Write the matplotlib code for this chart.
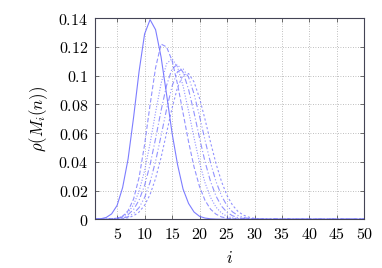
import numpy as np
import matplotlib
matplotlib.use("Agg")
import matplotlib.pyplot as plt

plt.rcParams['mathtext.fontset'] = 'cm'
plt.rcParams['font.family'] = 'serif'
plt.rcParams['font.serif'] = ['DejaVu Serif']

# i = 1 .. 50 (zero beyond the listed tail)
i_vals = np.arange(1, 51)

def pad(vals):
    out = list(vals) + [0.0] * (50 - len(vals))
    return np.array(out)

rho_1 = pad([0, 0.0003, 0.0012, 0.0037, 0.0096, 0.022, 0.042, 0.071, 0.103, 0.129,
             0.139, 0.132, 0.113, 0.087, 0.060, 0.038, 0.021, 0.011, 0.005, 0.002,
             0.0008, 0.0003, 0.0001])
rho_2 = pad([0, 0, 0, 0.0002, 0.0007, 0.0021, 0.0059, 0.0141, 0.0291, 0.0519,
             0.0797, 0.1055, 0.122, 0.120, 0.1105, 0.094, 0.074, 0.054, 0.0364, 0.0227,
             0.0131, 0.0070, 0.0035, 0.0016, 0.0007, 0.0003, 0.0001])
rho_3 = pad([0, 0, 0, 0.0003, 0.0008, 0.0020, 0.0047, 0.0101, 0.0195, 0.0338,
             0.0528, 0.0745, 0.0946, 0.1083, 0.1118, 0.1059, 0.0929, 0.0754, 0.0567, 0.0395,
             0.0254, 0.0152, 0.0084, 0.0043, 0.0020, 0.0009, 0.0004, 0.0001])
rho_4 = pad([0, 0, 0, 0.0002, 0.0005, 0.0014, 0.0032, 0.0068, 0.0133, 0.0235,
             0.0380, 0.0561, 0.0757, 0.0932, 0.1049, 0.1078, 0.1024, 0.0904, 0.0742, 0.0565,
             0.0400, 0.0263, 0.0161, 0.0091, 0.0048, 0.0024, 0.0011, 0.0005, 0.0002])
rho_5 = pad([0, 0, 0, 0, 0.0003, 0.0007, 0.0018, 0.0040, 0.0081, 0.0151,
             0.0258, 0.0404, 0.0581, 0.0766, 0.0927, 0.1028, 0.1047, 0.0990, 0.0873, 0.0717,
             0.0550, 0.0393, 0.0262, 0.0163, 0.0094, 0.0051, 0.0026, 0.0012, 0.0005, 0.0002])
rho_6 = pad([0, 0, 0, 0, 0.0001, 0.0004, 0.0010, 0.0024, 0.0050, 0.0097,
             0.0172, 0.0284, 0.0430, 0.0601, 0.0774, 0.0919, 0.1005, 0.1015, 0.0956, 0.0843,
             0.0695, 0.0536, 0.0387, 0.0262, 0.0165, 0.0098, 0.0054, 0.0028, 0.0014, 0.0006,
             0.0002])

series = [rho_1, rho_2, rho_3, rho_4, rho_5, rho_6]
styles = ['-', (0, (4, 2)), (0, (1, 1.5)), (0, (5, 2, 1, 2)), (0, (5, 2, 1, 2, 1, 2)), (0, (2, 2))]

x_ticks = [5, 10, 15, 20, 25, 30, 35, 40, 45, 50]
y_ticks = [0, 0.02, 0.04, 0.06, 0.08, 0.1, 0.12, 0.14]
y_labels = ['0', '0.02', '0.04', '0.06', '0.08', '0.1', '0.12', '0.14']

fig = plt.figure(figsize=(3.82, 2.68), dpi=100)
ax = fig.add_axes([0.249, 0.182, 0.705, 0.750])

for s, ls in zip(series, styles):
    ax.plot(i_vals, s, color='#6f6fff', lw=0.8, ls=ls, alpha=0.9 if ls == '-' else 0.75)

ax.set_xlim(1, 50)
ax.set_ylim(0, 0.14)
ax.set_xticks(x_ticks)
ax.set_xticklabels(['$%d$' % t for t in x_ticks])
ax.set_yticks(y_ticks)
ax.set_yticklabels(['$%s$' % t for t in y_labels])
ax.tick_params(direction='in', length=3, width=0.6, color='#555555', labelsize=11.5,
               top=True, right=True, pad=5)
ax.grid(True, ls=(0, (1, 2)), color='#aaaaaa', lw=0.6)
for sp in ax.spines.values():
    sp.set_color('#444455')
    sp.set_linewidth(0.8)

ax.set_xlabel('$i$', fontsize=12, labelpad=5)
ax.set_ylabel(r'$\rho(M_i(n))$', fontsize=12, labelpad=6)

fig.savefig('out.png', dpi=100)
